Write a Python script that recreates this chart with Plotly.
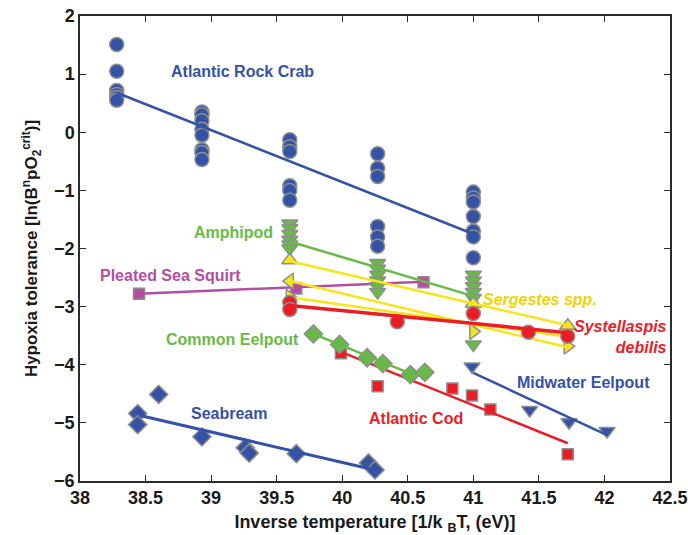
import plotly.graph_objects as go

# ---------------- data ----------------
crab_x = [38.28]*6 + [38.93]*8 + [39.6]*6 + [40.27]*6 + [41.0]*7
crab_y = [1.51, 1.05, 0.72, 0.65, 0.6, 0.55,
          0.35, 0.3, 0.2, 0.05, -0.05, -0.3, -0.35, -0.47,
          -0.13, -0.25, -0.33, -0.92, -1.0, -1.17,
          -0.37, -0.62, -0.76, -1.62, -1.8, -1.96,
          -1.03, -1.13, -1.2, -1.45, -1.7, -1.8, -2.16]
crab_fit_x = [38.28, 41.0]
crab_fit_y = [0.68, -1.75]

amph_x = [39.6]*6 + [40.27]*6 + [41.0]*6
amph_y = [-1.57, -1.65, -1.75, -1.85, -1.93, -2.0,
          -2.25, -2.35, -2.45, -2.55, -2.65, -2.75,
          -2.45, -2.55, -2.65, -2.75, -2.85, -3.65]
amph_fit_x = [39.6, 41.0]
amph_fit_y = [-1.88, -2.82]

squirt_x = [38.45, 39.65, 40.62]
squirt_y = [-2.78, -2.69, -2.58]
squirt_fit_x = [38.45, 40.62]
squirt_fit_y = [-2.78, -2.57]

serg_up_x = [39.6, 41.0, 41.72]
serg_up_y = [-2.2, -2.95, -3.33]
serg_left_x = [39.6]
serg_left_y = [-2.56]
serg_right_x = [39.6, 41.0, 41.72]
serg_right_y = [-2.84, -3.43, -3.68]
serg_fit1_x = [39.6, 41.72]
serg_fit1_y = [-2.22, -3.32]
serg_fit2_x = [39.6, 41.72]
serg_fit2_y = [-2.56, -3.70]
serg_fit3_x = [39.6, 41.72]
serg_fit3_y = [-2.84, -3.52]

syst_x = [39.6, 39.6, 40.42, 41.0, 41.42, 41.72]
syst_y = [-2.93, -3.05, -3.26, -3.12, -3.44, -3.51]
syst_fit_x = [39.6, 41.72]
syst_fit_y = [-2.98, -3.45]

ceel_x = [39.78, 39.98, 40.19, 40.31, 40.52, 40.63]
ceel_y = [-3.47, -3.65, -3.88, -3.98, -4.17, -4.13]
ceel_fit_x = [39.78, 40.55]
ceel_fit_y = [-3.47, -4.18]

cod_x = [39.99, 40.27, 40.84, 40.99, 41.13, 41.72]
cod_y = [-3.8, -4.37, -4.41, -4.53, -4.77, -5.54]
cod_fit_x = [39.99, 41.72]
cod_fit_y = [-3.78, -5.35]

meel_x = [40.99, 41.43, 41.73, 42.02]
meel_y = [-4.03, -4.78, -4.99, -5.14]
meel_fit_x = [41.0, 42.02]
meel_fit_y = [-4.14, -5.21]

sea_x = [38.44, 38.44, 38.6, 38.93, 39.26, 39.29, 39.65, 40.2, 40.25]
sea_y = [-4.84, -5.03, -4.51, -5.24, -5.43, -5.52, -5.53, -5.69, -5.81]
sea_fit_x = [38.45, 40.25]
sea_fit_y = [-4.87, -5.81]

x_ticks = [38, 38.5, 39, 39.5, 40, 40.5, 41, 41.5, 42, 42.5]
y_ticks = [-6, -5, -4, -3, -2, -1, 0, 1, 2]

# ---------------- styles ----------------
BLUE = "#3452a6"
GREEN = "#67bb45"
RED = "#ec1c24"
YELLOW = "#f7e51a"
YTEXT = "#f2d400"
MAGENTA = "#b44ea3"
OUTLINE = "#8e8e8e"
FONT = "Liberation Sans, Arial"

fig = go.Figure()


def pts(x, y, color, symbol, size):
    fig.add_trace(go.Scatter(x=x, y=y, mode="markers",
                             marker=dict(color=color, symbol=symbol, size=size,
                                         line=dict(color=OUTLINE, width=1.5)),
                             showlegend=False, hoverinfo="skip"))


def fit(x, y, color, width=2.5):
    fig.add_trace(go.Scatter(x=x, y=y, mode="lines",
                             line=dict(color=color, width=width),
                             showlegend=False, hoverinfo="skip"))


pts(sea_x, sea_y, BLUE, "diamond", 14)
fit(sea_fit_x, sea_fit_y, BLUE, 3)
pts(cod_x, cod_y, RED, "square", 11)
fit(cod_fit_x, cod_fit_y, RED)
pts(ceel_x, ceel_y, GREEN, "diamond", 14)
fit(ceel_fit_x, ceel_fit_y, GREEN)
pts(meel_x, meel_y, BLUE, "triangle-down", 14)
fit(meel_fit_x, meel_fit_y, BLUE)
pts(squirt_x, squirt_y, MAGENTA, "square", 11)
fit(squirt_fit_x, squirt_fit_y, MAGENTA)
pts(amph_x, amph_y, GREEN, "triangle-down", 14)
fit(amph_fit_x, amph_fit_y, GREEN)
pts(serg_right_x, serg_right_y, YELLOW, "triangle-right", 14)
pts(serg_left_x, serg_left_y, YELLOW, "triangle-left", 14)
pts(serg_up_x, serg_up_y, YELLOW, "triangle-up", 14)
fit(serg_fit1_x, serg_fit1_y, YELLOW)
fit(serg_fit2_x, serg_fit2_y, YELLOW)
fit(serg_fit3_x, serg_fit3_y, YELLOW)
pts(syst_x, syst_y, RED, "circle", 14)
fit(syst_fit_x, syst_fit_y, RED, 3.5)
pts(crab_x, crab_y, BLUE, "circle", 14)
fit(crab_fit_x, crab_fit_y, BLUE)

labels = [
    ("Atlantic Rock Crab", 39.24, 1.05, BLUE, "center", False),
    ("Amphipod", 39.17, -1.72, GREEN, "center", False),
    ("Pleated Sea Squirt", 38.69, -2.46, MAGENTA, "center", False),
    ("Common Eelpout", 39.16, -3.57, GREEN, "center", False),
    ("Seabream", 39.14, -4.84, BLUE, "center", False),
    ("Atlantic Cod", 40.56, -4.92, RED, "center", False),
    ("Midwater Eelpout", 41.84, -4.30, BLUE, "center", False),
    ("Sergestes spp.", 41.51, -2.88, YTEXT, "center", True),
    ("Systellaspis<br>debilis", 42.49, -3.52, RED, "right", True),
]
for text, x, y, col, xa, ital in labels:
    t = f"<i>{text}</i>" if ital else text
    fig.add_annotation(x=x, y=y, text=f"<b>{t}</b>", showarrow=False,
                       xanchor=xa, yanchor="middle", align=xa,
                       font=dict(family=FONT, size=16, color=col))

axis_common = dict(showline=True, linecolor="#2b2b2b", linewidth=1.5, mirror="ticks",
                   ticks="inside", ticklen=6, tickwidth=1, tickcolor="#2b2b2b",
                   showgrid=False, zeroline=False, automargin=False,
                   ticklabeloverflow="allow",
                   tickfont=dict(family=FONT, size=18, color="#1a1a1a"))

fig.update_xaxes(range=[38, 42.5], tickvals=x_ticks,
                 ticktext=[f"<b>{v:g}</b>" for v in x_ticks],
                 title=dict(text="<b>Inverse temperature [1/k <sub>B</sub>T, (eV)]</b>",
                            font=dict(family=FONT, size=18, color="#1a1a1a"),
                            standoff=8),
                 **axis_common)
fig.update_yaxes(range=[-6, 2], tickvals=y_ticks,
                 ticktext=[f"<b>{v:d}</b>".replace("-", "\u2212") for v in y_ticks],
                 title=dict(text="<b>Hypoxia tolerance [ln(B<sup>n</sup>pO<sub>2</sub><sup>crit</sup>)]</b>",
                            font=dict(family=FONT, size=17, color="#1a1a1a"),
                            standoff=12),
                 **axis_common)

fig.update_layout(width=688, height=535, plot_bgcolor="white", paper_bgcolor="white",
                  margin=dict(l=80, r=18, t=16, b=54), showlegend=False)

# remove the browser's default 8px page margin so the figure fills the window
fig.write_html("out.html", config={"displayModeBar": False},
               post_script="document.body.style.margin='0';document.body.style.overflow='hidden';")
